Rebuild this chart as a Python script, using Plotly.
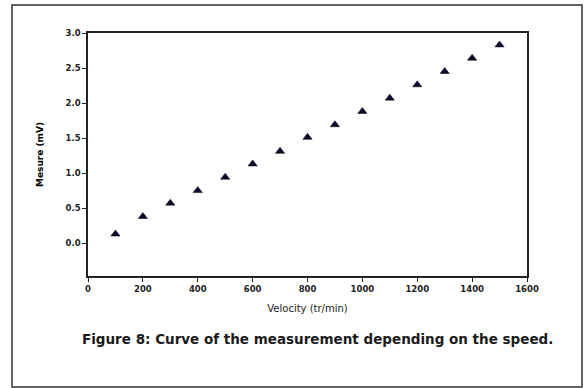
import plotly.graph_objects as go

velocity = [100, 200, 300, 400, 500, 600, 700, 800, 900, 1000, 1100, 1200, 1300, 1400, 1500]
mesure = [0.13, 0.38, 0.57, 0.75, 0.94, 1.13, 1.31, 1.51, 1.69, 1.88, 2.07, 2.26, 2.45, 2.64, 2.83]
x_ticks = [0, 200, 400, 600, 800, 1000, 1200, 1400, 1600]
y_ticks = [0.0, 0.5, 1.0, 1.5, 2.0, 2.5, 3.0]

FONT = "DejaVu Sans, Verdana, sans-serif"

fig = go.Figure()
fig.add_trace(go.Scatter(
    x=velocity, y=mesure, mode="markers",
    marker=dict(symbol="triangle-up", size=8, color="#0a0a30",
                line=dict(color="#000000", width=0.5)),
    showlegend=False,
))

L, R, T, B = 88, 57, 33, 112
W, H = 584, 388
pw, ph = W - L - R, H - T - B

def px(x):
    return (x - L) / pw

def py(y):
    return (H - B - y) / ph

fig.update_layout(
    width=W, height=H,
    margin=dict(l=L, r=R, t=T, b=B),
    paper_bgcolor="white", plot_bgcolor="white",
    font=dict(family=FONT, color="#000000"),
    xaxis=dict(
        range=[0, 1600], tickvals=x_ticks, ticktext=[str(v) for v in x_ticks],
        showgrid=False, zeroline=False, showline=True, linecolor="#222222",
        linewidth=1.5, mirror=True, ticks="outside", ticklen=4, tickwidth=1.2,
        tickcolor="#222222", tickfont=dict(size=8.5, family=FONT, weight="bold", color="#222222"),
        title=dict(text="Velocity (tr/min)", font=dict(size=10, family=FONT, color="#222222"), standoff=12),
    ),
    yaxis=dict(
        range=[-0.47, 3.0], tickvals=y_ticks, ticktext=[f"{v:.1f}" for v in y_ticks],
        showgrid=False, zeroline=False, showline=True, linecolor="#222222",
        linewidth=1.5, mirror=True, ticks="outside", ticklen=4, tickwidth=1.2,
        tickcolor="#222222", tickfont=dict(size=8.5, family=FONT, weight="bold", color="#222222"),
        title=dict(text="Mesure (mV)", font=dict(size=9, family=FONT, weight="bold"), standoff=20),
    ),
    shapes=[dict(
        type="rect", xref="paper", yref="paper",
        x0=px(12), x1=px(582), y0=py(387), y1=py(5),
        line=dict(color="#333333", width=1.5), fillcolor="rgba(0,0,0,0)",
        layer="below",
    )],
    annotations=[dict(
        text="Figure 8: Curve of the measurement depending on the speed.",
        xref="paper", yref="paper", x=px(317), y=py(339),
        xanchor="center", yanchor="middle", showarrow=False,
        font=dict(size=13.5, family=FONT, color="#1a1a1a", weight="bold"),
    )],
)

fig.write_html("out.html")
